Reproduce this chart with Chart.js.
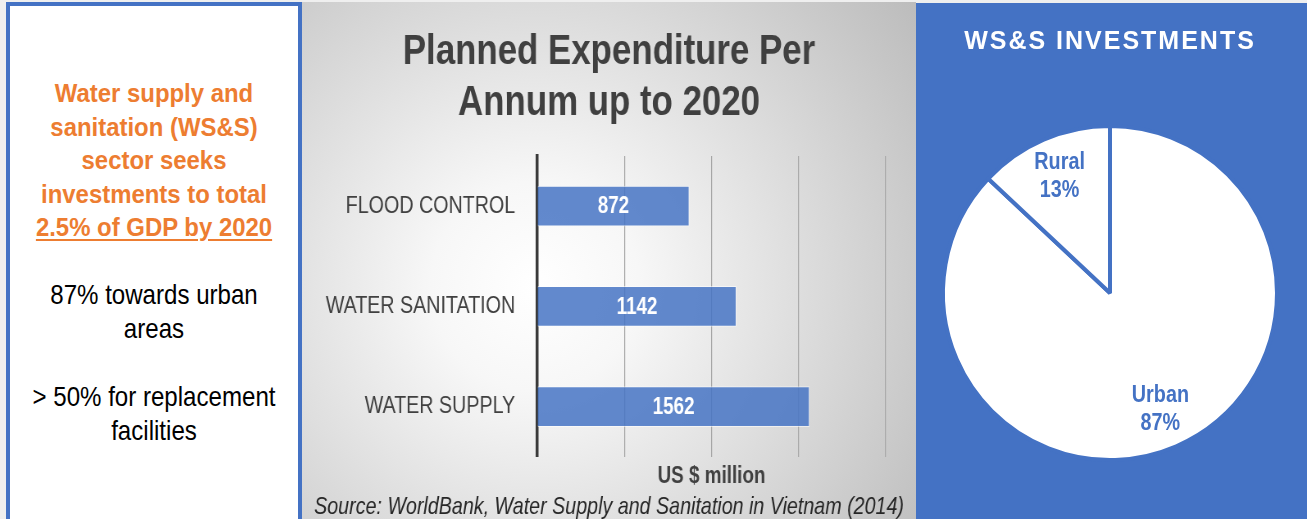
<!DOCTYPE html>
<html>
<head>
<meta charset="utf-8">
<script src="https://cdn.jsdelivr.net/npm/chart.js@4.4.0/dist/chart.umd.min.js"></script>
<style>
  body { margin: 0; width: 1307px; height: 519px; overflow: hidden; position: relative; background: #efefef;
    font-family: "Liberation Sans", Arial, sans-serif; }
  #summary { position: absolute; left: 6px; top: 2px; width: 288px; height: 540px; border: 4px solid #4472c4; background: #fff; text-align: center; }
  #summary p { margin: 0; position: absolute; left: 0; right: 0; white-space: nowrap; }
  .lead { top: 71px; color: #ed7d31; font: bold 26px/33.5px "Liberation Sans", Arial, sans-serif; transform: scaleX(0.92); }
  .lead u { text-decoration-thickness: 2px; text-underline-offset: 3px; }
  .note { color: #000; font: 28px/34px "Liberation Sans", Arial, sans-serif; transform: scaleX(0.86); }
  #expenditure { position: absolute; left: 302px; top: 2px; width: 614px; height: 517px; overflow: hidden;
    background: radial-gradient(circle farthest-corner at 38% 55%, #ffffff 0%, #f7f7f7 22%, #bcbcbc 100%); }
  /* chart is laid out wide and squeezed to get narrow lettering */
  #barChart { transform: scaleX(0.8198); transform-origin: 0 0; margin-top: -2px; }
  #investments { position: absolute; left: 916px; top: 3px; width: 391px; height: 516px; background: #4472c4; }
</style>
</head>
<body>
<div id="summary">
  <p class="lead">Water supply and<br>sanitation (WS&amp;S)<br>sector seeks<br>investments to total<br><u>2.5% of GDP by 2020</u></p>
  <p class="note" style="top:272px">87% towards urban<br>areas</p>
  <p class="note" style="top:374px">&gt; 50% for replacement<br>facilities</p>
</div>
<div id="expenditure"><canvas id="barChart" width="749" height="519"></canvas></div>
<div id="investments"><canvas id="pieChart" width="391" height="516"></canvas></div>

<script>
const SANS = '"Liberation Sans", Arial, sans-serif';

// planned spend per annum, US$ million
const categories = ["FLOOD CONTROL", "WATER SANITATION", "WATER SUPPLY"];
const expenditure = [872, 1142, 1562];
const axisMax = 2000;
const axisStep = 500;

// share of WS&S investment
const areas = ["Urban", "Rural"];
const areaShare = [87, 13];

// white value text in the middle of each bar
const barValues = {
  id: "barValues",
  afterDatasetsDraw(chart) {
    const ctx = chart.ctx;
    ctx.save();
    ctx.fillStyle = "#ffffff";
    ctx.font = "bold 23px " + SANS;
    ctx.textAlign = "center";
    ctx.textBaseline = "middle";
    chart.getDatasetMeta(0).data.forEach((bar, i) => {
      ctx.fillText(expenditure[i], (bar.x + bar.base) / 2, bar.y + 1);
    });
    ctx.restore();
  }
};

new Chart(document.getElementById("barChart"), {
  type: "bar",
  data: {
    labels: categories,
    datasets: [{
      data: expenditure,
      backgroundColor: "rgba(68,114,196,0.84)",
      borderColor: "rgba(255,255,255,0.55)",
      borderWidth: 1,
      barThickness: 40
    }]
  },
  options: {
    indexAxis: "y",
    responsive: false,
    animation: false,
    layout: { padding: 0 },
    plugins: {
      legend: { display: false },
      tooltip: { enabled: false },
      title: {
        display: true,
        text: ["Planned Expenditure Per", "Annum up to 2020"],
        color: "#404040",
        font: { family: SANS, size: 42.5, weight: "bold", lineHeight: 1.2 },
        padding: { top: 27, bottom: 27 }
      },
      subtitle: {
        display: true,
        position: "bottom",
        text: "Source: WorldBank, Water Supply and Sanitation in Vietnam (2014)",
        color: "#262626",
        font: { family: SANS, size: 24, style: "italic", lineHeight: 1.0 },
        padding: { top: 0, bottom: 0 }
      }
    },
    scales: {
      x: {
        min: 0,
        max: axisMax,
        ticks: { display: false, stepSize: axisStep },
        grid: { color: "#a6a6a6", lineWidth: 1.2, drawTicks: false },
        border: { display: false },
        title: {
          display: true,
          text: "US $ million",
          color: "#404040",
          font: { family: SANS, size: 23, weight: "bold", lineHeight: 1.1 },
          padding: { top: 7, bottom: 6 }
        }
      },
      y: {
        grid: { display: false, drawTicks: false },
        border: { display: true, color: "#3a3a3a", width: 3.5 },
        ticks: { color: "#404040", font: { family: SANS, size: 24 }, padding: 27 },
        afterFit(scale) { scale.width = 287; }
      },
      // empty right-hand axis, keeps the plot clear of the panel edge
      yRight: {
        axis: "y",
        type: "linear",
        position: "right",
        grid: { display: false, drawTicks: false },
        border: { display: false },
        ticks: { display: false },
        afterFit(scale) { scale.width = 37; }
      }
    }
  },
  plugins: [barValues]
});

// spaced capitals for the panel heading, two-line labels inside the slices
const pieText = {
  id: "pieText",
  beforeDraw(chart) { chart.ctx.letterSpacing = "2px"; },
  beforeDatasetsDraw(chart) { chart.ctx.letterSpacing = "0px"; },
  afterDatasetsDraw(chart) {
    const ctx = chart.ctx;
    chart.getDatasetMeta(0).data.forEach((arc, i) => {
      const mid = (arc.startAngle + arc.endAngle) / 2;
      const r = arc.outerRadius * 0.76;
      ctx.save();
      ctx.translate(arc.x + Math.cos(mid) * r, arc.y + Math.sin(mid) * r);
      ctx.scale(0.86, 1);
      ctx.fillStyle = "#4472c4";
      ctx.font = "bold 23px " + SANS;
      ctx.textAlign = "center";
      ctx.textBaseline = "middle";
      ctx.fillText(areas[i], 0, -14);
      ctx.fillText(areaShare[i] + "%", 0, 14);
      ctx.restore();
    });
  }
};

new Chart(document.getElementById("pieChart"), {
  type: "pie",
  data: {
    labels: areas,
    datasets: [{
      data: areaShare,
      backgroundColor: ["#ffffff", "#ffffff"],
      borderColor: "#4472c4",
      borderWidth: 4
    }]
  },
  options: {
    responsive: false,
    animation: false,
    layout: { padding: { left: 25, right: 28, top: 0, bottom: 57 } },
    plugins: {
      legend: { display: false },
      tooltip: { enabled: false },
      title: {
        display: true,
        text: "WS&S INVESTMENTS",
        color: "#ffffff",
        font: { family: SANS, size: 25, weight: "bold", lineHeight: 1.2 },
        padding: { top: 24, bottom: 67 }
      }
    }
  },
  plugins: [pieText]
});
</script>
</body>
</html>
